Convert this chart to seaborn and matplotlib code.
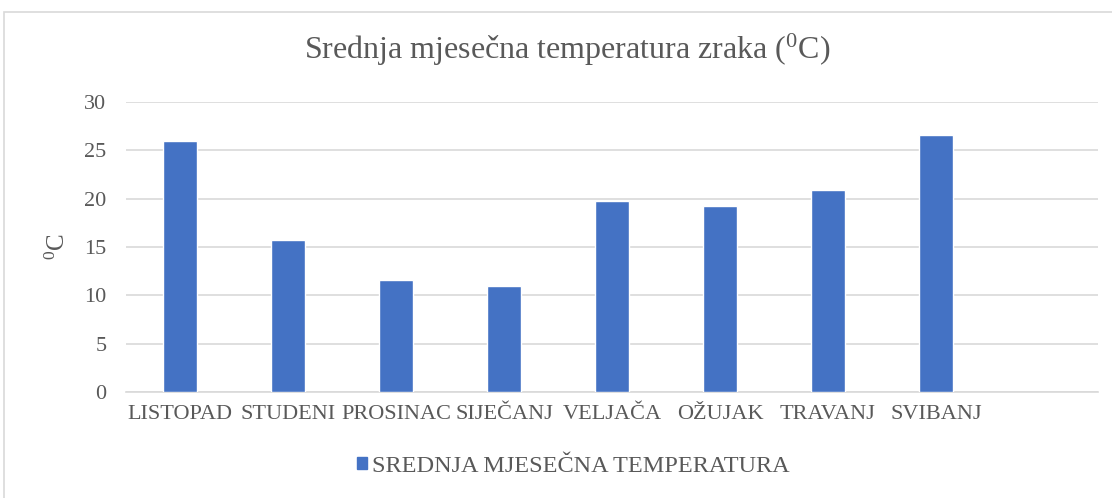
import matplotlib
matplotlib.use("Agg")
import matplotlib.pyplot as plt
import matplotlib.patches as mpatches
import seaborn as sns
import pandas as pd

months = ["LISTOPAD", "STUDENI", "PROSINAC", "SIJEČANJ", "VELJAČA",
          "OŽUJAK", "TRAVANJ", "SVIBANJ"]
temps = [26.0, 15.7, 11.6, 11.0, 19.8, 19.2, 20.9, 26.6]
series_name = "SREDNJA MJESEČNA TEMPERATURA"

bar_color = "#4472C4"
text_color = "#595959"
grid_color = "#D9D9D9"

sns.set_style("white")
plt.rcParams["font.family"] = ["Liberation Serif", "DejaVu Serif"]
plt.rcParams["mathtext.fontset"] = "custom"
plt.rcParams["mathtext.rm"] = "Liberation Serif"

df = pd.DataFrame({"month": months, "temp": temps})

fig = plt.figure(figsize=(11.12, 4.98), dpi=100)
ax = fig.add_axes([126 / 1112, 1 - 392 / 498, (1098 - 126) / 1112, 290 / 498])

sns.barplot(data=df, x="month", y="temp", color=bar_color, width=0.31,
            saturation=1, ax=ax, zorder=3)

ax.set_xlim(-0.5, 8.5)
ax.set_ylim(0, 30)
ax.set_yticks(range(0, 31, 5))
ax.yaxis.grid(True, color=grid_color, linewidth=1.2, zorder=0)
ax.xaxis.grid(False)
for s in ["top", "right", "left"]:
    ax.spines[s].set_visible(False)
ax.spines["bottom"].set_color(grid_color)
ax.spines["bottom"].set_linewidth(1.2)
ax.tick_params(axis="y", length=0, pad=14, labelsize=16, labelcolor=text_color)
ax.tick_params(axis="x", length=0, pad=9, labelsize=16, labelcolor=text_color)
ax.set_xlabel("")
ax.set_ylabel(r"$\mathregular{^0}$C", fontsize=18, color=text_color, labelpad=10)

fig.text(567 / 1112, 1 - 50 / 498, r"Srednja mjesečna temperatura zraka ($\mathregular{^0}$C)",
         ha="center", va="center", fontsize=23, color=text_color)

handle = mpatches.Patch(color=bar_color, label=series_name)
fig.legend(handles=[handle], loc="center", bbox_to_anchor=(573 / 1112, 1 - 466 / 498),
           frameon=False, fontsize=17.5, handlelength=0.42, handleheight=0.42,
           handletextpad=0.2, labelcolor=text_color)

frame = mpatches.Rectangle((4 / 1112, -0.1), 1.2, 1.1 - 12.5 / 498, transform=fig.transFigure,
                           fill=False, edgecolor=grid_color, linewidth=1.2, clip_on=False)
fig.patches.append(frame)

fig.savefig("out.png", dpi=100)
